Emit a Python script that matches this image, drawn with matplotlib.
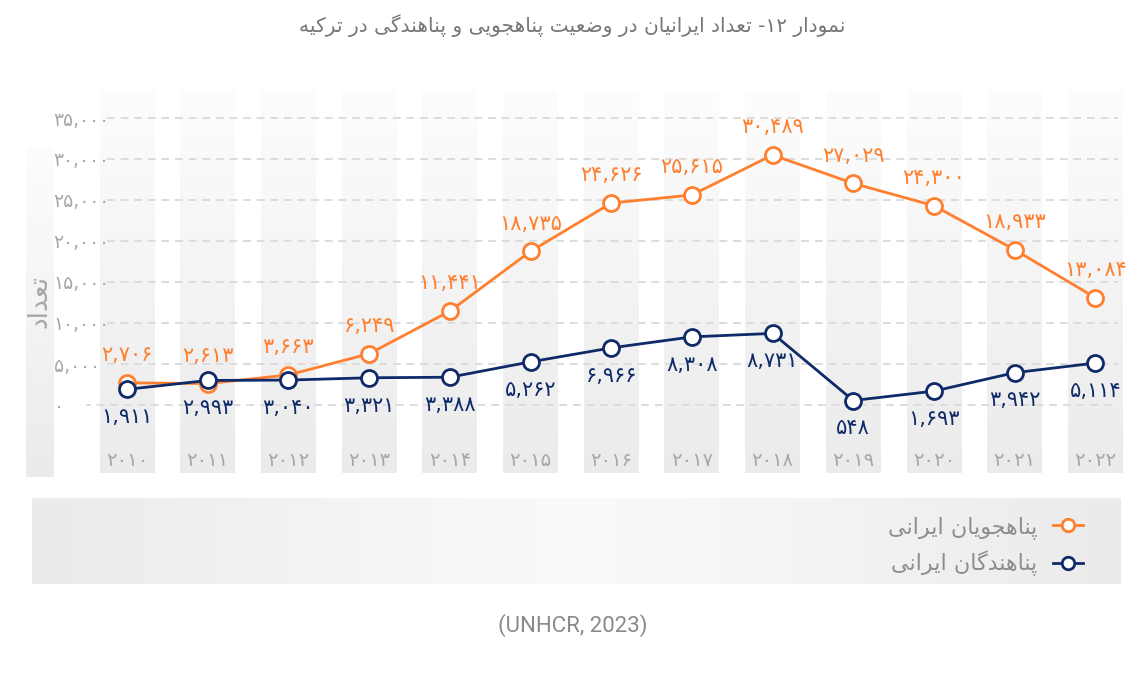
import matplotlib
matplotlib.use("Agg")
import matplotlib.pyplot as plt
import numpy as np
from matplotlib.lines import Line2D

# داده ها
years = [2010, 2011, 2012, 2013, 2014, 2015, 2016, 2017, 2018, 2019, 2020, 2021, 2022]
asylum_seekers = [2706, 2613, 3663, 6249, 11441, 18735, 24626, 25615, 30489, 27029, 24300, 18933, 13084]
refugees = [1911, 2993, 3040, 3321, 3388, 5262, 6966, 8308, 8731, 548, 1693, 3942, 5114]
y_ticks = [0, 5000, 10000, 15000, 20000, 25000, 30000, 35000]

title_txt = "نمودار ۱۲- تعداد ایرانیان در وضعیت پناهجویی و پناهندگی در ترکیه"
ylabel_txt = "تعداد"
series_names = ["پناهجویان ایرانی", "پناهندگان ایرانی"]
source_txt = "(UNHCR, 2023)"

ORANGE = "#ff7f2e"
NAVY = "#0f2a68"
GRAY = "#a7a7a9"

# forms: isolated, final, initial, medial (None => right-joining only)
FORMS = {
    "ا": ("\ufe8d", "\ufe8e", None, None),
    "د": ("\ufea9", "\ufeaa", None, None),
    "ذ": ("\ufeab", "\ufeac", None, None),
    "ر": ("\ufead", "\ufeae", None, None),
    "ز": ("\ufeaf", "\ufeb0", None, None),
    "و": ("\ufeed", "\ufeee", None, None),
    "ب": ("\ufe8f", "\ufe90", "\ufe91", "\ufe92"),
    "ن": ("\ufee5", "\ufee6", "\ufee7", "\ufee8"),
    "م": ("\ufee1", "\ufee2", "\ufee3", "\ufee4"),
    "ت": ("\ufe95", "\ufe96", "\ufe97", "\ufe98"),
    "ع": ("\ufec9", "\ufeca", "\ufecb", "\ufecc"),
    "ض": ("\ufebd", "\ufebe", "\ufebf", "\ufec0"),
    "ه": ("\ufee9", "\ufeea", "\ufeeb", "\ufeec"),
    "ج": ("\ufe9d", "\ufe9e", "\ufe9f", "\ufea0"),
    "ل": ("\ufedd", "\ufede", "\ufedf", "\ufee0"),
    "پ": ("\ufb56", "\ufb57", "\ufb58", "\ufb59"),
    "گ": ("\ufb92", "\ufb93", "\ufb94", "\ufb95"),
    "ک": ("\ufb8e", "\ufb8f", "\ufb90", "\ufb91"),
    "ی": ("\ufbfc", "\ufbfd", "\ufbfe", "\ufbff"),
}


def joins_left(ch):
    # can connect to the following letter
    return ch in FORMS and FORMS[ch][2] is not None


def fa(text):
    """shape persian letters and put them in visual (left to right) order"""
    out = []
    n = len(text)
    for i, ch in enumerate(text):
        if ch not in FORMS:
            out.append(ch)
            continue
        prev_j = i > 0 and joins_left(text[i - 1])
        next_j = i < n - 1 and text[i + 1] in FORMS and joins_left(ch)
        iso, fin, ini, med = FORMS[ch]
        if prev_j and next_j:
            out.append(med)
        elif prev_j:
            out.append(fin)
        elif next_j:
            out.append(ini)
        else:
            out.append(iso)
    vis = "".join(out)[::-1]
    # digit runs stay left to right
    res, run = "", ""
    for ch in vis:
        if "\u06f0" <= ch <= "\u06f9" or ch.isdigit():
            run += ch
        else:
            res += run[::-1] + ch
            run = ""
    return res + run[::-1]


def fa_num(v):
    s = f"{v:,}"
    return s.translate(str.maketrans("0123456789", "۰۱۲۳۴۵۶۷۸۹"))


plt.rcParams["font.family"] = ["DejaVu Sans"]

W, H = 1139, 688
fig = plt.figure(figsize=(W / 100, H / 100), dpi=100)


def px_rect(x0, y0, x1, y1):
    return [x0 / W, 1 - y1 / H, (x1 - x0) / W, (y1 - y0) / H]


# gradient backgrounds (figure level)
vgrad = np.linspace(0, 1, 256).reshape(-1, 1)
bg_cmap = matplotlib.colors.LinearSegmentedColormap.from_list("bg", ["#fdfdfd", "#ebebeb"])

yl_ax = fig.add_axes(px_rect(26, 146, 53, 477))
yl_ax.imshow(vgrad, cmap=bg_cmap, aspect="auto", extent=(0, 1, 0, 1), vmin=0, vmax=1)
yl_ax.axis("off")

leg_ax = fig.add_axes(px_rect(32, 498, 1121, 584))
hgrad = 1 - np.abs(np.linspace(-1, 1, 256)).reshape(1, -1)
leg_cmap = matplotlib.colors.LinearSegmentedColormap.from_list("lg", ["#ebebeb", "#fafafa"])
leg_ax.imshow(hgrad, cmap=leg_cmap, aspect="auto", extent=(0, 1, 0, 1), vmin=0, vmax=1)
leg_ax.axis("off")

# main axes: 2010 at px 127, 80.7 px per year ; 0 at px 405, 35000 at px 118
x_left, x_right = 85.5, 1125
x0_data = 2010 + (x_left - 127) / 80.7
x1_data = 2010 + (x_right - 127) / 80.7
y_top, y_bot = 90, 473
ppu = (405 - 118) / 35000
ax = fig.add_axes(px_rect(x_left, y_top, x_right, y_bot))
ax.set_xlim(x0_data, x1_data)
ax.set_ylim(-(y_bot - 405) / ppu, (405 - y_top) / ppu)
ax.patch.set_alpha(0)
for s in ax.spines.values():
    s.set_visible(False)

ylo, yhi = ax.get_ylim()
col_w = 0.34
for yr in years:
    ax.imshow(vgrad, cmap=bg_cmap, aspect="auto", vmin=0, vmax=1,
              extent=(yr - col_w, yr + col_w, ylo, yhi), zorder=0)
ax.set_xlim(x0_data, x1_data)
ax.set_ylim(ylo, yhi)

# dashed grid
for t in y_ticks:
    xs = 2009.45 if t == 0 else 2009.75
    ax.hlines(t, xs, 2022.28, colors="#dcdcdc", linestyles=(0, (4, 3)), linewidth=1.4, zorder=1)

ax.set_xticks([])
ax.set_yticks(y_ticks)
ax.set_yticklabels([fa_num(t) for t in y_ticks], color=GRAY, fontsize=13.5, ha="left")
ax.tick_params(axis="y", length=0, pad=23)

for yr in years:
    ax.text(yr, -(461 - 405) / ppu, fa_num(yr).replace(",", ""), ha="center", va="center",
            color=GRAY, fontsize=14, zorder=3)

mk = dict(marker="o", markersize=11.5, markerfacecolor="white", markeredgewidth=2.0)
ax.plot(years, asylum_seekers, color=ORANGE, linewidth=2.0, zorder=4, **mk)
ax.plot(years, refugees, color=NAVY, linewidth=2.0, zorder=5, **mk)

for x, v in zip(years, asylum_seekers):
    ax.annotate(fa_num(v), (x, v), xytext=(0, 20), textcoords="offset points",
                ha="center", va="center", color=ORANGE, fontsize=15, zorder=6)
for x, v in zip(years, refugees):
    ax.annotate(fa_num(v), (x, v), xytext=(0, -20), textcoords="offset points",
                ha="center", va="center", color=NAVY, fontsize=15, zorder=6)

# y label inside the grey strip
fig.text(39.5 / W, 1 - 302 / H, fa(ylabel_txt), rotation=90, ha="center", va="center",
         color=GRAY, fontsize=19)

fig.text(572 / W, 1 - 26 / H, fa(title_txt), ha="center", va="center", color="#777777", fontsize=14.5)
fig.text(573 / W, 1 - 626 / H, source_txt, ha="center", va="center", color="#8a8a8e",
         fontsize=16, family=["Roboto", "DejaVu Sans"])

handles = [
    Line2D([], [], color=ORANGE, linewidth=2.0, marker="o", markersize=9,
           markerfacecolor="white", markeredgewidth=2.0),
    Line2D([], [], color=NAVY, linewidth=2.0, marker="o", markersize=9,
           markerfacecolor="white", markeredgewidth=2.0),
]
leg = fig.legend(handles, [fa(s) for s in series_names], loc="center right",
                 bbox_to_anchor=(1083 / W, 1 - 546 / H), frameon=False, markerfirst=False,
                 fontsize=16, handlelength=1.35, handletextpad=0.7, labelspacing=0.55,
                 borderpad=0, borderaxespad=0)
for t in leg.get_texts():
    t.set_color("#8e8e92")

fig.savefig("out.png", dpi=100)
